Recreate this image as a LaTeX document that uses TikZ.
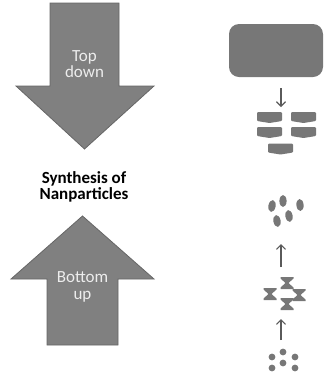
\documentclass[tikz,border=0pt]{standalone}
\usepackage{fontspec}
\setmainfont{Carlito}
\usetikzlibrary{positioning,arrows.meta}

\definecolor{arrowgrey}{HTML}{808080}
\definecolor{arrowedge}{HTML}{666666}
\definecolor{shapegrey}{HTML}{777777}
\definecolor{linkgrey}{HTML}{5A5A5A}

\tikzset{
  bigarrow/.style={fill=arrowgrey, draw=arrowedge, line width=0.8pt, line join=miter},
  arrowtext/.style={text=white!93!black, align=center, font=\fontsize{17}{16.5}\selectfont},
  titletext/.style={align=center, font=\fontsize{17}{16}\selectfont\bfseries},
  piece/.style={fill=shapegrey, draw=none},
  link/.style={draw=linkgrey, line width=1.2pt, -{Straight Barb[length=4.5pt,width=9pt,line width=1.2pt]}}
}

\begin{document}
\begin{tikzpicture}[x=1pt, y=-1pt]
    \useasboundingbox (0,0) rectangle (325,376);
    % big arrows
    \draw[bigarrow] (50,3) -- (119,3) -- (119,86) -- (154,86) -- (84.5,149) -- (16,86) -- (50,86) -- cycle;
    \draw[bigarrow] (47,345) -- (47,279) -- (11,279) -- (82.5,216) -- (154,279) -- (118,279) -- (118,345) -- cycle;
    \node[arrowtext] (topdown) at (84.5,64) {Top\\down};
    \node[arrowtext] (bottomup) at (82.5,287) {Bottom\\up};
    \node[titletext] (title) at (84,187) {Synthesis of\\Nanparticles};

    % top down: bulk -> fragments
    \node[piece, rounded corners=10pt, minimum width=94pt, minimum height=53pt] (bulk) at (276,50.5) {};
    \foreach \cx/\cy in {269.5/117, 303.5/117, 269.5/132, 303.5/132, 280.5/148.5}
        \fill[piece, rounded corners=1pt] (\cx-12.5,\cy-5) -- (\cx+12.5,\cy-5) -- (\cx+12.5,\cy+4)
            -- (\cx,\cy+6) -- (\cx-12.5,\cy+4) -- cycle;
    \coordinate (cut from) at (281,88);
    \coordinate (cut to) at (281,107);
    \draw[link] (cut from) -- (cut to);

    % bottom up: atoms -> clusters -> particles
    \foreach \cx/\cy/\tilt in {272/206/-10, 283/201/0, 300/205/5, 277/221/10, 289/216/10}
        \fill[piece, rotate around={\tilt:(\cx,\cy)}] (\cx,\cy) ellipse (3.6pt and 6pt);
    \foreach \cx/\cy in {270/294, 287/283, 299/295, 287/304}
        \fill[piece] (\cx-6.5,\cy-6) -- (\cx+6.5,\cy-6) -- (\cx+6.5,\cy-4.5) -- (\cx+1.5,\cy)
            -- (\cx+6.5,\cy+4.5) -- (\cx+6.5,\cy+6) -- (\cx-6.5,\cy+6) -- (\cx-6.5,\cy+4.5)
            -- (\cx-1.5,\cy) -- (\cx-6.5,\cy-4.5) -- cycle;
    \foreach \cx/\cy in {272/357, 283/352, 295/357, 272/368, 283/363, 295/368}
        \fill[piece] (\cx,\cy) circle (3.4pt);
    \coordinate (grow a from) at (281,267);
    \coordinate (grow a to) at (281,244);
    \coordinate (grow b from) at (281,340);
    \coordinate (grow b to) at (281,319);
    \draw[link] (grow a from) -- (grow a to);
    \draw[link] (grow b from) -- (grow b to);
\end{tikzpicture}
\end{document}
